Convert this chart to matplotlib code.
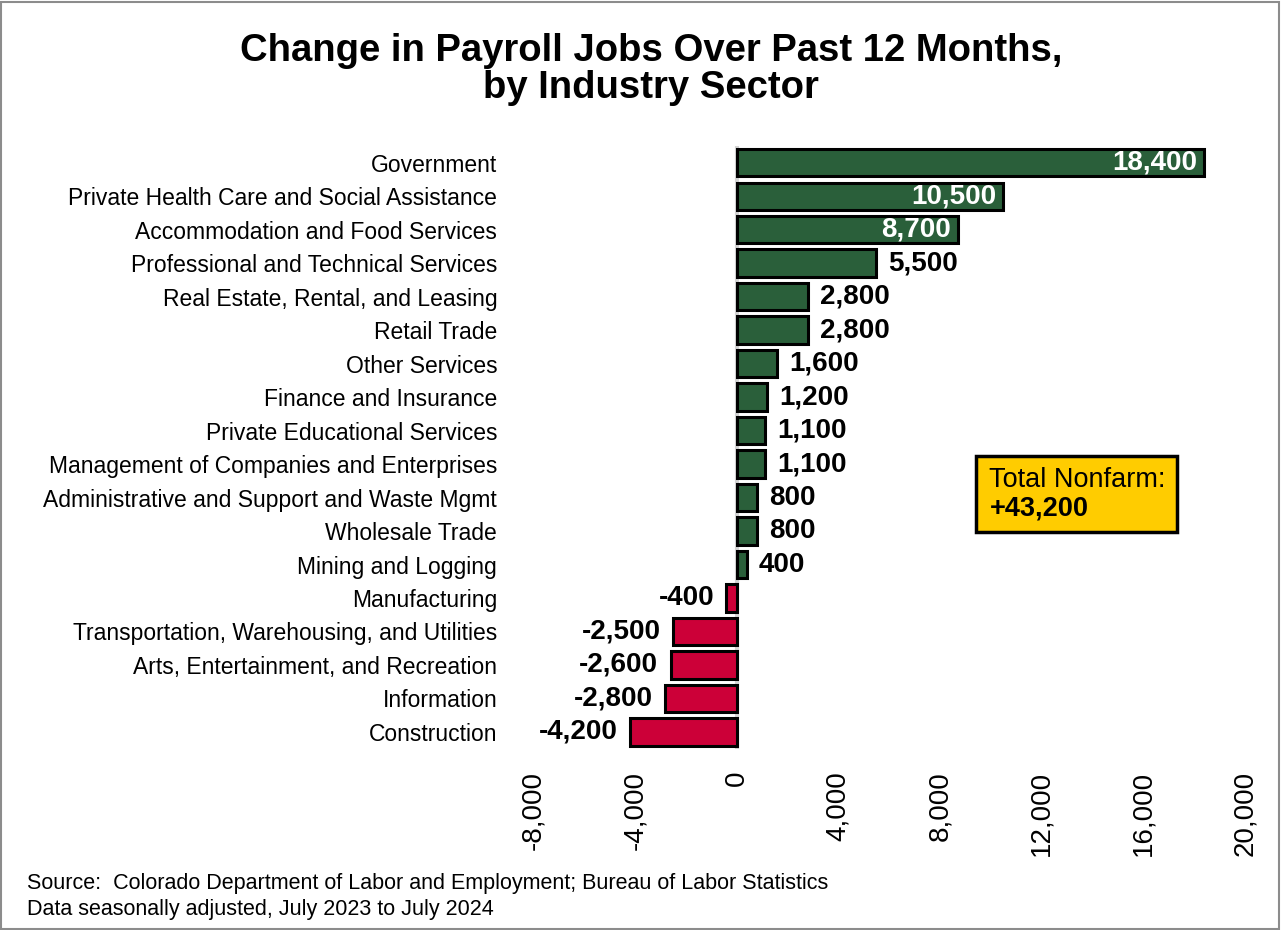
import matplotlib
matplotlib.use("Agg")
import matplotlib.pyplot as plt
from matplotlib.patches import Rectangle

plt.rcParams['font.family'] = ['Liberation Sans', 'DejaVu Sans']

# datos
sectores = ["Government", "Private Health Care and Social Assistance",
            "Accommodation and Food Services", "Professional and Technical Services",
            "Real Estate, Rental, and Leasing", "Retail Trade", "Other Services",
            "Finance and Insurance", "Private Educational Services",
            "Management of Companies and Enterprises",
            "Administrative and Support and Waste Mgmt", "Wholesale Trade",
            "Mining and Logging", "Manufacturing",
            "Transportation, Warehousing, and Utilities",
            "Arts, Entertainment, and Recreation", "Information", "Construction"]
cambio = [18400, 10500, 8700, 5500, 2800, 2800, 1600, 1200, 1100, 1100,
          800, 800, 400, -400, -2500, -2600, -2800, -4200]
ticks_x = [-8000, -4000, 0, 4000, 8000, 12000, 16000, 20000]
total_nonfarm = 43200

verde = '#2A5F3A'
rojo = '#CC0038'

fig = plt.figure(figsize=(12.82, 9.30), dpi=100)
ax = fig.add_axes([0.416, 0.195, 0.555, 0.648])

colores = [verde if v >= 0 else rojo for v in cambio]
pos = list(range(len(sectores)))
ax.barh(pos, cambio, height=0.82, color=colores, edgecolor='black',
        linewidth=2.2, zorder=3)
ax.axvline(0, color='#D4D4D4', linewidth=3, zorder=2)

for y, v in zip(pos, cambio):
    txt = f"{v:,}"
    if v >= 8000:
        ax.text(v - 280, y, txt, ha='right', va='center', color='white',
                fontsize=20, fontweight='bold', zorder=4)
    elif v >= 0:
        ax.text(v + 480, y, txt, ha='left', va='center', color='black',
                fontsize=20, fontweight='bold', zorder=4)
    else:
        ax.text(v - 480, y, txt, ha='right', va='center', color='black',
                fontsize=20, fontweight='bold', zorder=4)

ax.set_xlim(-8000, 20000)
ax.set_ylim(len(sectores) - 0.5, -0.5)
ax.set_xticks(ticks_x)
ax.set_xticklabels([f"{t:,}" for t in ticks_x], rotation=90, fontsize=20)
ax.set_yticks(pos)
ax.set_yticklabels(sectores, fontsize=16.5)
ax.tick_params(axis='x', length=0, pad=16)
ax.tick_params(axis='y', length=0, pad=26)
for s in ax.spines.values():
    s.set_visible(False)

# caja total
ax.add_patch(Rectangle((0.622, 0.36), 0.2825, 0.126, transform=ax.transAxes,
                       facecolor='#FFCC00', edgecolor='black', linewidth=2.5,
                       zorder=5))
ax.text(0.641, 0.446, "Total Nonfarm:", transform=ax.transAxes,
        fontsize=19.5, va='center', ha='left', zorder=6)
ax.text(0.641, 0.398, f"+{total_nonfarm:,}", transform=ax.transAxes,
        fontsize=19.5, fontweight='bold', va='center', ha='left', zorder=6)

fig.text(0.508, 0.965, "Change in Payroll Jobs Over Past 12 Months,\nby Industry Sector",
         ha='center', va='top', fontsize=27.5, fontweight='bold', linespacing=1.05)
fig.text(0.021, 0.050, "Source:  Colorado Department of Labor and Employment; Bureau of Labor Statistics",
         fontsize=15.5, ha='left', va='center')
fig.text(0.021, 0.022, "Data seasonally adjusted, July 2023 to July 2024",
         fontsize=15.5, ha='left', va='center')

fig.patches.append(Rectangle((0.001, 0.001), 0.997, 0.997, transform=fig.transFigure,
                             fill=False, edgecolor='#8C8C8C', linewidth=1.5))

fig.savefig('out.png', dpi=100)
